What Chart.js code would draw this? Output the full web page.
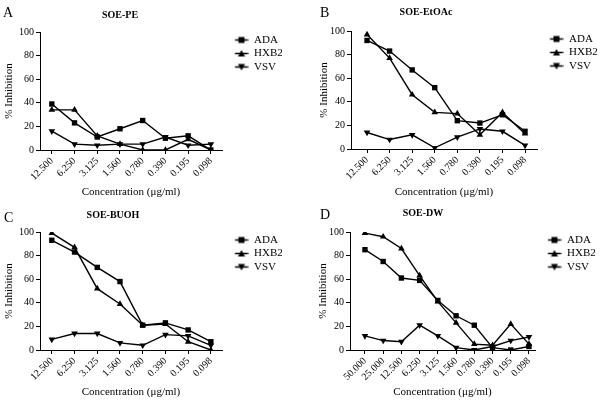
<!DOCTYPE html>
<html>
<head>
<meta charset="utf-8">
<script src="https://cdn.jsdelivr.net/npm/chart.js@4.4.1/dist/chart.umd.min.js"></script>
<style>
  body { margin: 0; background: #fff; }
  #wrap { position: relative; width: 600px; height: 400px; font-family: "Liberation Serif", serif; color: #000; }
  canvas { position: absolute; }
  .lbl { position: absolute; font-size: 14px; line-height: 1; }
  .ttl { position: absolute; font-size: 10px; font-weight: bold; line-height: 1; white-space: nowrap; transform: translateX(-50%); }
</style>
</head>
<body>
<div id="wrap">
  <canvas id="chartA" width="300" height="200" style="left:0;top:0"></canvas>
  <canvas id="chartB" width="300" height="200" style="left:300px;top:0"></canvas>
  <canvas id="chartC" width="300" height="200" style="left:0;top:200px"></canvas>
  <canvas id="chartD" width="300" height="200" style="left:300px;top:200px"></canvas>
  <div class="lbl" style="left:3px;top:6px">A</div>
  <div class="lbl" style="left:320px;top:6px">B</div>
  <div class="lbl" style="left:4px;top:211px">C</div>
  <div class="lbl" style="left:320px;top:208px">D</div>
  <div class="ttl" style="left:120px;top:10px">SOE-PE</div>
  <div class="ttl" style="left:426px;top:7px">SOE-EtOAc</div>
  <div class="ttl" style="left:113px;top:210px">SOE-BUOH</div>
  <div class="ttl" style="left:423px;top:208px">SOE-DW</div>
</div>
<script>
const FONT = '"Liberation Serif", serif';

// concentrations (µg/ml)
const concShort = ['12.500', '6.250', '3.125', '1.560', '0.780', '0.390', '0.195', '0.098'];
const concLong = ['50.000', '25.000', '12.500', '6.250', '3.125', '1.560', '0.780', '0.390', '0.195', '0.098'];

const seriesNames = ['ADA', 'HXB2', 'VSV'];

// A: SOE-PE
const peAda = [39, 23, 11, 18, 25, 10, 12, 0];
const peHxb2 = [34, 34, 12, 5, 0, 0, 9, 0];
const peVsv = [16, 5, 4, 5, 5, 11, 4, 5];

// B: SOE-EtOAc
const etAda = [92, 83, 67, 52, 24, 22, 29, 15];
const etHxb2 = [97, 77, 46, 31, 30, 12, 31, 13];
const etVsv = [14, 8, 12, 1, 10, 17, 15, 3];

// C: SOE-BUOH
const buAda = [93, 83, 70, 58, 21, 23, 17, 7];
const buHxb2 = [99, 87, 52, 39, 21, 22, 7, 0];
const buVsv = [9, 14, 14, 6, 4, 13, 12, 4];

// D: SOE-DW
const dwAda = [85, 75, 61, 59, 42, 29, 21, 2, 0, 3];
const dwHxb2 = [99, 96, 86, 63, 41, 23, 5, 4, 22, 5];
const dwVsv = [12, 8, 7, 21, 12, 2, 0, 3, 8, 11];

const styles = ['rect', 'triangle', 'triangle'];
const rotations = [0, 0, 180];

// legend icon: short line with the marker on it
function legendIcon(k) {
    const c = document.createElement('canvas');
    c.width = 24;
    c.height = 9;
    const g = c.getContext('2d');
    g.strokeStyle = '#000';
    g.fillStyle = '#000';
    g.lineWidth = 1.5;
    g.beginPath();
    g.moveTo(10.5, 4.5);
    g.lineTo(23.5, 4.5);
    g.stroke();
    const cx = 17, cy = 4.5;
    g.beginPath();
    if (k === 0) {
        g.rect(cx - 3, cy - 3, 6, 6);
    } else if (k === 1) {
        g.moveTo(cx - 3.5, cy + 3);
        g.lineTo(cx + 3.5, cy + 3);
        g.lineTo(cx, cy - 3.5);
    } else {
        g.moveTo(cx - 3.5, cy - 3);
        g.lineTo(cx + 3.5, cy - 3);
        g.lineTo(cx, cy + 3.5);
    }
    g.closePath();
    g.fill();
    return c;
}
const icons = [0, 1, 2].map(legendIcon);

function makeChart(id, labels, series, box) {
    const datasets = series.map((vals, k) => ({
        label: seriesNames[k],
        data: vals.map((v, i) => ({ x: i, y: v })),
        borderColor: '#000',
        backgroundColor: '#000',
        borderWidth: 1.4,
        tension: 0,
        pointStyle: styles[k],
        pointRotation: rotations[k],
        pointRadius: k === 0 ? 3.8 : 3.8,
        pointBorderWidth: 0,
        pointBackgroundColor: '#000'
    }));

    new Chart(document.getElementById(id), {
        type: 'line',
        data: { datasets },
        options: {
            responsive: false,
            animation: false,
            devicePixelRatio: 1,
            layout: {
                padding: { left: box.padLeft, top: box.top, right: box.padRight, bottom: 0 }
            },
            plugins: {
                legend: {
                    position: 'right',
                    align: 'start',
                    maxWidth: 60,
                    labels: {
                        usePointStyle: true,
                        pointStyleWidth: 24,
                        padding: 2.5,
                        color: '#000',
                        font: { family: FONT, size: 11 },
                        generateLabels: chart => chart.data.datasets.map((ds, i) => ({
                            text: ds.label,
                            pointStyle: icons[i],
                            datasetIndex: i,
                            hidden: false,
                            lineWidth: 0,
                            fillStyle: '#000',
                            strokeStyle: '#000',
                            fontColor: '#000'
                        }))
                    }
                },
                tooltip: { enabled: false }
            },
            scales: {
                x: {
                    type: 'linear',
                    min: box.xmin,
                    max: box.xmax,
                    afterBuildTicks: s => { s.ticks = labels.map((_, i) => ({ value: i })); },
                    afterFit: s => { s.height = 200 - box.top - 118; },
                    ticks: {
                        autoSkip: false,
                        minRotation: 45,
                        maxRotation: 45,
                        padding: 1,
                        color: '#000',
                        font: { family: FONT, size: 10 },
                        callback: v => labels[v]
                    },
                    grid: { drawOnChartArea: false, drawTicks: true, tickLength: 4, color: '#000' },
                    border: { color: '#000', width: 1 },
                    title: {
                        display: true,
                        text: 'Concentration (μg/ml)',
                        color: '#000',
                        font: { family: FONT, size: 11 },
                        padding: { top: 0, bottom: 1 }
                    }
                },
                y: {
                    min: 0,
                    max: 100,
                    afterFit: s => { s.width = box.yw; },
                    ticks: {
                        stepSize: 20,
                        padding: 2,
                        color: '#000',
                        font: { family: FONT, size: 10 }
                    },
                    grid: { drawOnChartArea: false, drawTicks: true, tickLength: 4, color: '#000' },
                    border: { color: '#000', width: 1 },
                    title: {
                        display: true,
                        text: '% Inhibition',
                        color: '#000',
                        font: { family: FONT, size: 11 },
                        padding: { top: 3, bottom: 0 }
                    }
                }
            }
        }
    });
}

makeChart('chartA', concShort, [peAda, peHxb2, peVsv],
    { padLeft: 0, yw: 40, top: 32, padRight: 18, xmin: -0.52, xmax: 7.49 });
makeChart('chartB', concShort, [etAda, etHxb2, etVsv],
    { padLeft: 15, yw: 36, top: 31, padRight: 3, xmin: -0.71, xmax: 7.53 });
makeChart('chartC', concShort, [buAda, buHxb2, buVsv],
    { padLeft: 0, yw: 40, top: 32, padRight: 18, xmin: -0.52, xmax: 7.49 });
makeChart('chartD', concLong, [dwAda, dwHxb2, dwVsv],
    { padLeft: 14, yw: 36, top: 32, padRight: 5, xmin: -0.82, xmax: 9.33 });
</script>
</body>
</html>
